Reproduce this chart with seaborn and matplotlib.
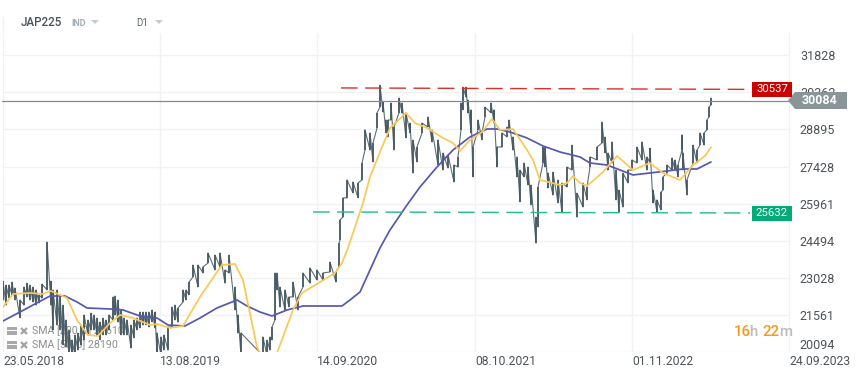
import numpy as np
import matplotlib.pyplot as plt
import seaborn as sns
from matplotlib.patches import Polygon, Rectangle

# chart steps, 1 step is about one pixel of the reference
bar_x = [0,3,6,9,12,17,21,24,27,30,33,36,39,44,48,50,54,57,60,63,66,69,72,75,78,81,85,88,91,94,97,100,103,106,110,112,115,118,121,124,128,131,134,137,140,143,146,149,152,154,158,161,165,169,172,175,180,183,186,190,195,200,205,212,217,222,226,232,235,238,
         260,264,267,269,272,274,277,282,286,290,295,300,307,314,320,327,333,336,337,340,344,350,355,359,362,367,370,374,377,380,383,385,388,391,396,399,403,407,410,414,419,425,429,435,440,445,451,455,458,460,463,465,468,470,475,479,482,488,491,494,499,504,506,510,514,517,521,525,528,533,535,540,542,545,550,555,559,564,569,574,580,584,587,594,599,602,605,609,613,616,620,625,629,634,639,644,647,650,654,658,660,664,669,672,675,679,680,684,690,694,697,701,704,706,708]
bar_high = [22900,22745,22745,22860,22625,22150,22665,22820,22745,22665,22550,22350,22780,24445,22900,22550,22550,22350,21950,21360,20965,20570,20770,20845,21160,21560,21360,21635,21560,21440,21280,21440,21360,21560,22270,22310,22150,21755,21440,21360,21160,21360,21440,21675,21675,21675,21675,21755,21675,20845,20690,20770,21085,21875,21950,21835,22550,22550,22860,23535,23535,23460,24010,23930,24010,23340,23930,22665,21560,20845,
            20690,20570,20690,21085,23220,23220,22665,22550,22270,22860,22270,23220,23420,23340,23220,23650,23260,24400,25320,26190,26900,26820,26780,27570,28880,28760,28360,29550,30650,29980,29270,29270,29940,28990,30140,29940,29550,29150,28480,28200,29150,29390,28880,28480,27965,27890,27490,27810,29940,30570,30570,30060,29670,28200,29270,28760,29780,29940,29670,28200,28760,28990,29270,28600,27810,27290,27570,27410,26700,25430,26620,28200,28200,27170,27210,26900,26780,27410,28280,26380,26780,26620,27810,28200,29190,28600,27965,28400,27290,26500,27170,27290,27690,28200,28400,27810,28160,26500,26110,26420,27020,27490,27770,27690,27490,28680,27965,26900,28280,28080,28760,28760,29270,29780,30140]
bar_low = [22150,21950,22230,22350,22150,21440,21950,22270,22150,22070,21950,22030,22230,22550,21950,20965,21160,20965,20370,20290,19950,19950,19950,20170,20370,20570,20770,20965,20965,20770,20570,20770,20770,20965,21360,21560,21280,20770,20770,20770,20250,20650,20965,21045,21160,21160,21085,21280,21045,19950,19950,20170,20170,21085,21360,21280,22070,22150,22350,23060,22665,23220,23610,23340,23460,22820,23220,21755,20845,19950,
           19950,19950,20170,20570,21360,22550,21875,21755,21875,22270,21755,22665,22820,22940,22940,23260,22860,23460,24520,25430,26190,26380,26190,26900,28080,28080,27610,28950,29780,29590,28760,28600,29270,28080,29550,29550,28560,28760,27170,27610,28760,28990,28400,27490,27290,27370,26820,27410,28880,29670,30180,29550,28760,27020,28880,28480,29390,29550,29150,27410,28200,28600,28880,28080,27020,26030,27020,26700,25910,24400,25040,27570,27410,26580,26300,25990,25590,26620,27290,25430,25830,26110,27410,27690,28360,27965,27290,27570,26110,25630,25830,26780,27290,27570,27690,27290,27570,25990,25630,25710,26500,27170,27290,27290,27020,28080,27290,26300,27570,27570,28280,28280,28880,29390,29860]

sma200_x = [0,17,30,47,62,74,84,107,120,137,154,165,182,197,214,234,244,257,269,284,300,339,347,357,377,387,404,417,434,450,467,484,494,507,524,540,557,577,587,604,617,630,647,664,680,694,708]
sma200 = [21320,21676,21953,22309,22309,22072,21835,21795,21756,21518,21439,21162,21123,21439,21835,22151,21914,21676,21518,21756,21914,21914,22151,22467,24208,24919,25908,26620,27411,28083,28598,28914,28914,28795,28558,28242,28004,27807,27569,27490,27292,27095,27174,27253,27332,27332,27610]

sma50_x = [0,10,27,40,48,64,74,85,95,107,117,130,147,154,167,180,197,214,219,232,240,254,257,265,274,290,299,332,339,345,360,367,377,387,403,412,424,440,450,457,467,479,489,497,510,524,530,537,557,564,570,577,584,600,614,630,647,660,677,690,702,708]
sma50 = [21874,22388,22428,22388,22507,22230,21360,20767,20727,21241,21558,21439,21162,21202,21044,21123,22270,23258,23535,23575,22942,20292,20055,18987,20055,21756,22428,23219,23614,24208,25987,27016,28004,28954,29547,29151,28954,28558,28360,28044,28479,28795,29310,28875,28914,28083,27688,26897,26699,26778,27055,26778,26660,27213,27846,27292,27569,27174,26897,27490,27846,28190]

level_x = [310,747]
level_support = [25632,25592]
level_resist_x = [338,747]
level_resist = [30537,30480]
current_price = 30084

price_ticks = [31828,30362,28895,27428,25961,24494,23028,21561,20094]
date_pos = [0,157,314,472,629,786]
date_labels = ['23.05.2018','13.08.2019','14.09.2020','08.10.2021','01.11.2022','24.09.2023']

W, H = 859, 378
FONT = 'Roboto'

sns.set_style('white')
plt.rcParams['font.family'] = FONT


def fx(x):
    return x / W


def fy(y):
    return 1 - y / H


fig = plt.figure(figsize=(W / 100, H / 100), dpi=100)
ax = fig.add_axes([fx(3), fy(352), (789.5 - 3) / W, (352 - 33) / H])
ax.patch.set_visible(False)
ax.set_xlim(0, 786.5)
ax.set_ylim(20094, 32710)
sns.despine(ax=ax, left=True, bottom=True, right=True, top=True)

ax.set_yticks(price_ticks)
ax.set_yticklabels([str(t) for t in price_ticks])
ax.yaxis.tick_right()
ax.set_xticks(date_pos)
ax.set_xticklabels(date_labels, ha='left')
ax.tick_params(axis='y', length=0, pad=7.5, labelsize=9, labelcolor='#4d5357')
ax.tick_params(axis='x', length=0, pad=2.5, labelsize=8.7, labelcolor='#4d5357')
ax.get_yticklabels()[-1].set_va('bottom')
ax.grid(True, color='#f1f2f2', lw=1)
ax.set_axisbelow(True)
ax.plot([0, 0], [1, 1.05], transform=ax.get_xaxis_transform(), color='#f1f2f2', lw=1, clip_on=False)

# zigzag between the bars so they read as a dense band, the bars on top
zig_x = np.repeat(bar_x, 2)
zig_y = np.ravel(np.column_stack([bar_low, bar_high]))
sns.lineplot(x=zig_x, y=zig_y, ax=ax, color='#5c6e76', lw=0.8, sort=False, estimator=None, zorder=2)
ax.vlines(bar_x, bar_low, bar_high, color='#44565f', lw=1.2, zorder=3)

sns.lineplot(x=sma200_x, y=sma200, ax=ax, color='#5459b0', lw=1.25, sort=False, estimator=None, zorder=4)
sns.lineplot(x=sma50_x, y=sma50, ax=ax, color='#fbc856', lw=1.25, sort=False, estimator=None, zorder=4)

sns.lineplot(x=level_resist_x, y=level_resist, ax=ax, color='#d9302b', lw=1, sort=False, estimator=None,
             dashes=(12, 5.4), zorder=4)
sns.lineplot(x=level_x, y=level_support, ax=ax, color='#22bb8c', lw=1, sort=False, estimator=None,
             dashes=(12, 5.4), zorder=4)

# current price line and tags
fig.add_artist(plt.Line2D([fx(2), fx(795)], [fy(100.5), fy(100.5)], color='#7f8c90', lw=0.9, zorder=5))
fig.add_artist(Polygon([[fx(788), fy(100.5)], [fx(795), fy(92)], [fx(847), fy(92)], [fx(847), fy(109)], [fx(795), fy(109)]],
                       closed=True, facecolor='#8a9599', edgecolor='none', zorder=6))
fig.text(fx(820), fy(100.5), str(current_price), color='white', fontsize=8.9, fontweight='bold', ha='center', va='center', zorder=7)
fig.add_artist(Rectangle((fx(752), fy(97)), 40 / W, 15 / H, facecolor='#cc0000', edgecolor='none', zorder=6))
fig.text(fx(772), fy(89.5), '30537', color='white', fontsize=8.2, ha='center', va='center', zorder=7)
fig.add_artist(Rectangle((fx(752), fy(221)), 40 / W, 15 / H, facecolor='#00ab77', edgecolor='none', zorder=6))
fig.text(fx(772), fy(213.5), '25632', color='white', fontsize=8.2, ha='center', va='center', zorder=7)

# top left header
fig.text(fx(21), fy(23), 'JAP225', color='#47525a', fontsize=8.4, fontweight='medium', va='center')
fig.text(fx(71), fy(23), 'IND', color='#a3aeb4', fontsize=6.4, fontweight='bold', va='center')
fig.text(fx(136), fy(23), 'D1', color='#5d686e', fontsize=7, va='center')
for tx in [95, 159]:
    fig.add_artist(Polygon([[fx(tx - 4), fy(20)], [fx(tx + 4), fy(20)], [fx(tx), fy(24)]], closed=True,
                           facecolor='#c6cbce', edgecolor='none'))

# legend sits under the price bars
for ly, txt in [(331, 'SMA [200, 0] 27610'), (345, 'SMA [50, 0] 28190')]:
    fig.add_artist(Rectangle((fx(7), fy(ly + 4)), 10 / W, 8 / H, facecolor='#9a9a9a', edgecolor='none', alpha=0.85, zorder=-2))
    fig.add_artist(plt.Line2D([fx(7), fx(17)], [fy(ly - 1), fy(ly - 1)], color='white', lw=0.7, zorder=-1))
    fig.add_artist(plt.Line2D([fx(24)], [fy(ly)], marker='x', ms=5, mew=1.6, color='#a5a5a5', zorder=-1))
    fig.text(fx(32), fy(ly), txt, color='#8d8d8d', fontsize=7.7, va='center', zorder=-1)

# countdown
for tx, s, col in [(734, '16', '#f7981d'), (749.5, 'h', '#bcbcbc'), (762.5, '22', '#f7981d'), (779, 'm', '#bcbcbc')]:
    fig.text(fx(tx), fy(332.5), s, color=col, fontsize=10.8, fontweight='medium', va='center', zorder=8)

plt.savefig('out.png', dpi=100)
